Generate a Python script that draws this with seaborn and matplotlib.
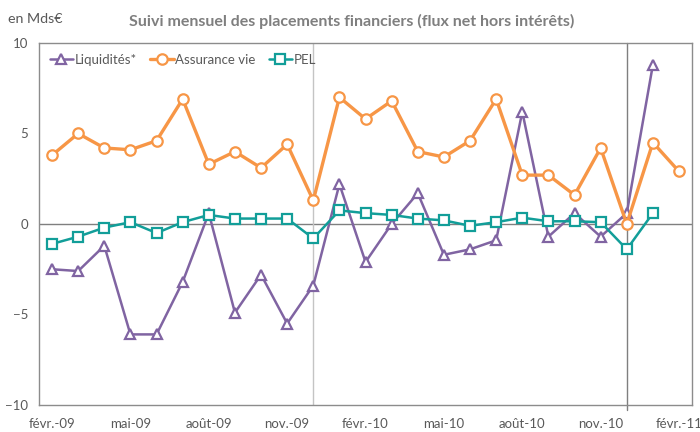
import numpy as np
import pandas as pd
import matplotlib.pyplot as plt
import seaborn as sns

# ================================================================
months = ["févr.-09", "mars-09", "avr.-09", "mai-09", "juin-09", "juil.-09", "août-09",
          "sept.-09", "oct.-09", "nov.-09", "déc.-09", "janv.-10", "févr.-10", "mars-10",
          "avr.-10", "mai-10", "juin-10", "juil.-10", "août-10", "sept.-10", "oct.-10",
          "nov.-10", "déc.-10", "janv.-11", "févr.-11"]

liquidites = [-2.5, -2.6, -1.2, -6.1, -6.1, -3.2, 0.6, -4.9, -2.8, -5.5, -3.4, 2.2,
              -2.1, 0.0, 1.7, -1.7, -1.4, -0.9, 6.2, -0.7, 0.6, -0.7, 0.6, 8.8]
assurance_vie = [3.8, 5.0, 4.2, 4.1, 4.6, 6.9, 3.3, 4.0, 3.1, 4.4, 1.3, 7.0, 5.8,
                 6.8, 4.0, 3.7, 4.6, 6.9, 2.7, 2.7, 1.6, 4.2, 0.0, 4.5, 2.9]
pel = [-1.1, -0.7, -0.2, 0.1, -0.5, 0.1, 0.5, 0.3, 0.3, 0.3, -0.8, 0.75, 0.6,
       0.5, 0.3, 0.2, -0.1, 0.1, 0.35, 0.15, 0.15, 0.1, -1.4, 0.6]

tick_labels = months[::3]
year_breaks = ["déc.-09", "déc.-10"]
# ================================================================

series = [
    ("Liquidités*", liquidites, "#8064a2", "^", 1.8),
    ("Assurance vie", assurance_vie, "#f79646", "o", 2.4),
    ("PEL", pel, "#129e99", "s", 1.8),
]

sns.set_theme(style="white")
plt.rcParams["font.family"] = ["Lato", "DejaVu Sans"]

fig = plt.figure(figsize=(7, 4.32), dpi=100)
ax = fig.add_axes([0.0557, 0.0625, 0.933, 0.838])

for name, vals, color, marker, lw in series:
    df = pd.DataFrame({"x": np.arange(len(vals)), "y": vals})
    sns.lineplot(ax=ax, data=df, x="x", y="y", color=color, lw=lw, marker=marker,
                 markersize=7.5, markerfacecolor="white", markeredgecolor=color,
                 markeredgewidth=1.6, label=name, zorder=3)

# Reference lines
ax.axhline(0, color="#7f7f7f", lw=1, zorder=1)
ax.axvline(months.index(year_breaks[0]), color="#c4c4c4", lw=1, zorder=1)
ax.axvline(months.index(year_breaks[1]), ymin=-0.013, color="#7f7f7f", lw=1,
           zorder=1, clip_on=False)

# Axes styling
ax.set_xlim(-0.5, len(months) - 0.5)
ax.set_ylim(-10, 10)
ax.set_yticks([-10, -5, 0, 5, 10])
ax.set_xticks(range(0, len(months), 3))
ax.set_xticklabels(tick_labels)
ax.tick_params(axis="both", length=0, labelsize=9.5, labelcolor="#595959")
ax.tick_params(axis="x", pad=9)
ax.tick_params(axis="y", pad=8)
ax.set_xlabel("")
ax.set_ylabel("")
for sp in ax.spines.values():
    sp.set_color("#8c8c8c")
    sp.set_linewidth(1)

ax.legend(loc="upper left", bbox_to_anchor=(0.0, 1.0), ncol=3, frameon=False,
          fontsize=9.5, handlelength=1.8, handletextpad=0.1, columnspacing=1.0,
          labelcolor="#595959", borderaxespad=0.4)

fig.text(0.503, 0.95, "Suivi mensuel des placements financiers (flux net hors intérêts)",
         ha="center", va="center", fontsize=11.5, fontweight="bold", color="#7f7f7f")
fig.text(0.011, 0.955, "en Mds€", ha="left", va="center", fontsize=10.3, color="#595959")

plt.savefig("out.png", dpi=100)
